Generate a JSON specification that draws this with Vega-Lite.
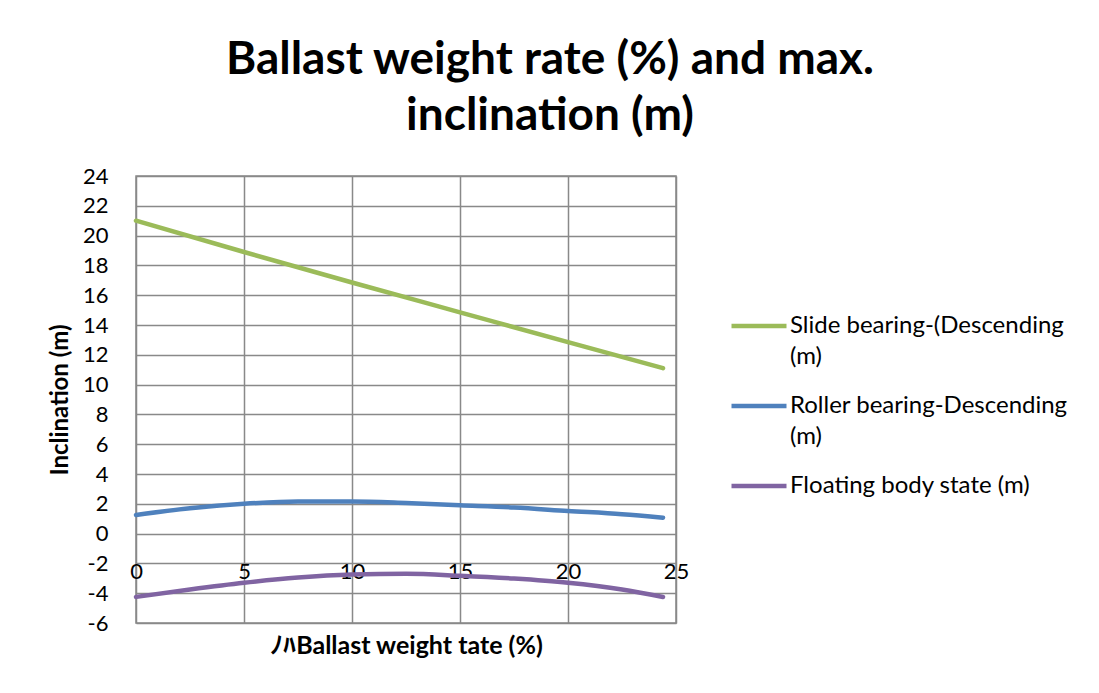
{
  "$schema": "https://vega.github.io/schema/vega-lite/v6.json",
  "width": 540,
  "height": 447,
  "autosize": {"type": "none"},
  "padding": {"left": 136, "top": 176, "right": 423, "bottom": 70},
  "background": "white",
  "title": {
    "text": ["Ballast  weight rate (%) and max.", "inclination (m)"],
    "font": "Lato",
    "fontSize": 46,
    "fontWeight": "bold",
    "color": "#000000",
    "anchor": "middle",
    "frame": "group",
    "dx": 144,
    "offset": 25,
    "lineHeight": 56
  },
  "config": {
    "view": {"stroke": "#898989", "strokeWidth": 1.5},
    "style": {"guide-label": {"lineHeight": 31}},
    "axis": {
      "gridColor": "#898989",
      "gridWidth": 1.5,
      "gridOpacity": 1,
      "labelFont": "Lato",
      "labelColor": "#000000",
      "labelFontSize": 22,
      "titleFont": "Lato",
      "titleColor": "#000000",
      "ticks": false,
      "domain": false
    },
    "legend": {
      "labelFont": "Lato",
      "labelFontSize": 24,
      "labelColor": "#000000",
      "labelLimit": 400
    }
  },
  "data": {
    "values": [
      {"rate": 0, "series": "Slide bearing-(Descending|(m)", "value": 21.0},
      {"rate": 5, "series": "Slide bearing-(Descending|(m)", "value": 18.9},
      {"rate": 10, "series": "Slide bearing-(Descending|(m)", "value": 16.85},
      {"rate": 15, "series": "Slide bearing-(Descending|(m)", "value": 14.85},
      {"rate": 20, "series": "Slide bearing-(Descending|(m)", "value": 12.85},
      {"rate": 24.4, "series": "Slide bearing-(Descending|(m)", "value": 11.1},
      {"rate": 0, "series": "Roller bearing-Descending|(m)", "value": 1.25},
      {"rate": 2.5, "series": "Roller bearing-Descending|(m)", "value": 1.7},
      {"rate": 5, "series": "Roller bearing-Descending|(m)", "value": 2.0},
      {"rate": 7.5, "series": "Roller bearing-Descending|(m)", "value": 2.15},
      {"rate": 10, "series": "Roller bearing-Descending|(m)", "value": 2.15},
      {"rate": 12.5, "series": "Roller bearing-Descending|(m)", "value": 2.05},
      {"rate": 15, "series": "Roller bearing-Descending|(m)", "value": 1.9},
      {"rate": 17.5, "series": "Roller bearing-Descending|(m)", "value": 1.75},
      {"rate": 20, "series": "Roller bearing-Descending|(m)", "value": 1.52},
      {"rate": 22.5, "series": "Roller bearing-Descending|(m)", "value": 1.3},
      {"rate": 24.4, "series": "Roller bearing-Descending|(m)", "value": 1.07},
      {"rate": 0, "series": "Floating body state  (m)", "value": -4.25},
      {"rate": 2.5, "series": "Floating body state  (m)", "value": -3.75},
      {"rate": 5, "series": "Floating body state  (m)", "value": -3.3},
      {"rate": 7.5, "series": "Floating body state  (m)", "value": -2.95},
      {"rate": 10, "series": "Floating body state  (m)", "value": -2.75},
      {"rate": 12.5, "series": "Floating body state  (m)", "value": -2.7},
      {"rate": 15, "series": "Floating body state  (m)", "value": -2.83},
      {"rate": 17.5, "series": "Floating body state  (m)", "value": -3.02},
      {"rate": 20, "series": "Floating body state  (m)", "value": -3.3},
      {"rate": 22.5, "series": "Floating body state  (m)", "value": -3.75},
      {"rate": 24.4, "series": "Floating body state  (m)", "value": -4.25}
    ]
  },
  "mark": {"type": "line", "strokeWidth": 4.5, "interpolate": "monotone", "strokeCap": "round"},
  "encoding": {
    "x": {
      "field": "rate",
      "type": "quantitative",
      "scale": {"domain": [0, 25], "nice": false},
      "axis": {
        "values": [0, 5, 10, 15, 20, 25],
        "offset": -62,
        "labelPadding": 0,
        "labelFlush": false,
        "labelBaseline": "top",
        "title": "ﾉﾊBallast weight tate (%)",
        "titleFontSize": 25,
        "titleFontWeight": "bold",
        "titleY": 84,
        "titleBaseline": "middle"
      }
    },
    "y": {
      "field": "value",
      "type": "quantitative",
      "scale": {"domain": [-6, 24], "nice": false},
      "axis": {
        "values": [-6, -4, -2, 0, 2, 4, 6, 8, 10, 12, 14, 16, 18, 20, 22, 24],
        "labelExpr": "format(datum.value, 'd') == '0' ? '0' : replace(datum.label, '−', '-')",
        "labelPadding": 28,
        "title": "Inclination (m)",
        "titleFontSize": 24,
        "titleFontWeight": "bold",
        "titleX": -76,
        "titleBaseline": "middle"
      }
    },
    "color": {
      "field": "series",
      "type": "nominal",
      "scale": {
        "domain": ["Slide bearing-(Descending|(m)", "Roller bearing-Descending|(m)", "Floating body state  (m)"],
        "range": ["#9BBB59", "#4F81BD", "#8064A2"]
      },
      "legend": {
        "title": null,
        "orient": "none",
        "legendX": 593,
        "legendY": 120,
        "symbolType": "stroke",
        "symbolSize": 3025,
        "symbolStrokeWidth": 4.5,
        "labelOffset": 1,
        "rowPadding": 7,
        "labelExpr": "split(datum.label, '|')"
      }
    }
  }
}
